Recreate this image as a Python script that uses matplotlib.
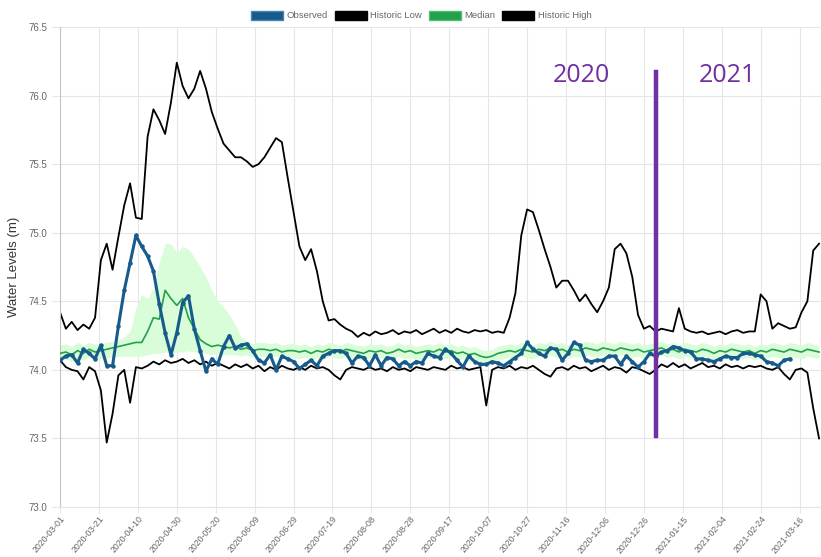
import matplotlib
matplotlib.use('Agg')

import pandas as pd
import matplotlib.pyplot as plt
from matplotlib.patches import Patch


# 3-day samples
hist_dates = pd.date_range("2020-03-01", periods=131, freq="3D")
obs_dates = pd.date_range("2020-03-01", periods=126, freq="3D")

historic_high = [
    74.42, 74.30, 74.35, 74.29, 74.33, 74.30, 74.38, 74.80, 74.92, 74.73,
    74.97, 75.20, 75.36, 75.11, 75.10, 75.70, 75.90, 75.82, 75.72, 75.95,
    76.24, 76.07, 75.98, 76.05, 76.18, 76.05, 75.88, 75.76, 75.65, 75.60,
    75.55, 75.55, 75.52, 75.48, 75.50, 75.55, 75.62, 75.69, 75.66, 75.40,
    75.15, 74.90, 74.80, 74.88, 74.72, 74.50, 74.36, 74.37, 74.33, 74.30,
    74.28, 74.24, 74.27, 74.25, 74.28, 74.26, 74.27, 74.29, 74.26, 74.28,
    74.27, 74.29, 74.26, 74.28, 74.30, 74.27, 74.29, 74.27, 74.30, 74.28,
    74.27, 74.29, 74.28, 74.29, 74.27, 74.28, 74.27, 74.38, 74.56, 74.98,
    75.17, 75.15, 75.02, 74.88, 74.75, 74.60, 74.65, 74.65, 74.58, 74.50,
    74.55, 74.48, 74.42, 74.50, 74.60, 74.88, 74.92, 74.85, 74.68, 74.40,
    74.30, 74.32, 74.28, 74.30, 74.29, 74.28, 74.45, 74.30, 74.28, 74.27,
    74.28, 74.26, 74.27, 74.28, 74.26, 74.28, 74.29, 74.27, 74.28, 74.28,
    74.55, 74.50, 74.30, 74.34, 74.32, 74.30, 74.31, 74.42, 74.50, 74.87,
    74.92,
]

historic_low = [
    74.07, 74.02, 74.00, 73.99, 73.93, 74.02, 73.99, 73.85, 73.47, 73.68,
    73.96, 74.00, 73.76, 74.02, 74.01, 74.03, 74.06, 74.04, 74.07, 74.05,
    74.06, 74.08, 74.05, 74.07, 74.04, 74.06, 74.03, 74.05, 74.03, 74.01,
    74.04, 74.02, 74.04, 74.01, 74.03, 73.99, 74.02, 74.00, 74.03, 74.01,
    74.00, 74.02, 74.00, 74.03, 74.01, 74.02, 74.00, 73.96, 73.93, 74.00,
    74.02, 74.01, 74.00, 74.02, 74.00, 74.01, 73.99, 74.02, 74.00, 74.01,
    73.99, 74.02, 74.01, 74.00, 74.02, 74.01, 74.00, 74.03, 74.01, 74.02,
    74.00, 74.01, 74.02, 73.74, 74.00, 74.02, 74.01, 74.03, 74.00, 74.02,
    74.01, 74.03, 74.00, 73.97, 73.95, 74.01, 74.02, 74.00, 74.03, 74.01,
    74.02, 73.99, 74.01, 74.03, 74.00, 74.02, 74.01, 73.98, 74.02, 74.01,
    73.99, 73.97, 74.00, 74.04, 74.02, 74.05, 74.02, 74.04, 74.01, 74.03,
    74.05, 74.02, 74.03, 74.01, 74.04, 74.02, 74.03, 74.01, 74.03, 74.02,
    74.03, 74.01, 74.00, 74.02, 73.97, 73.93, 74.00, 74.01, 73.98, 73.72,
    73.50,
]

median = [
    74.12, 74.13, 74.11, 74.14, 74.12, 74.15, 74.13, 74.14, 74.15, 74.16,
    74.17, 74.18, 74.19, 74.20, 74.20, 74.28, 74.38, 74.37, 74.58, 74.52,
    74.47, 74.52, 74.38, 74.30, 74.22, 74.19, 74.17, 74.18, 74.17, 74.16,
    74.17, 74.15, 74.16, 74.14, 74.15, 74.15, 74.14, 74.15, 74.13, 74.14,
    74.14, 74.13, 74.14, 74.12, 74.14, 74.13, 74.15, 74.14, 74.13, 74.15,
    74.14, 74.13, 74.12, 74.14, 74.13, 74.14, 74.12, 74.13, 74.15, 74.13,
    74.14, 74.12, 74.13, 74.14, 74.13, 74.15, 74.13, 74.14, 74.12, 74.13,
    74.11, 74.12, 74.10, 74.09, 74.10, 74.12, 74.13, 74.14, 74.13, 74.15,
    74.14, 74.13, 74.15, 74.14, 74.16, 74.14, 74.15, 74.13, 74.15, 74.14,
    74.16, 74.15, 74.14, 74.16, 74.15, 74.14, 74.16, 74.15, 74.14, 74.15,
    74.13, 74.14, 74.15, 74.16, 74.14, 74.15, 74.13, 74.15, 74.14, 74.13,
    74.15, 74.14, 74.12, 74.14, 74.13, 74.15, 74.14, 74.13, 74.14, 74.12,
    74.14, 74.13, 74.15, 74.14, 74.13, 74.15, 74.14, 74.13, 74.15, 74.14,
    74.13,
]

band_high = [
    74.18, 74.19, 74.17, 74.20, 74.18, 74.20, 74.19, 74.19, 74.20, 74.21,
    74.22, 74.24, 74.28, 74.45, 74.55, 74.52, 74.60, 74.78, 74.92, 74.92,
    74.86, 74.90, 74.88, 74.82, 74.75, 74.68, 74.58, 74.50, 74.46, 74.40,
    74.33, 74.24, 74.21, 74.19, 74.20, 74.20, 74.19, 74.20, 74.18, 74.19,
    74.19, 74.18, 74.19, 74.17, 74.19, 74.18, 74.20, 74.19, 74.18, 74.20,
    74.19, 74.18, 74.17, 74.19, 74.18, 74.19, 74.17, 74.18, 74.20, 74.18,
    74.19, 74.17, 74.18, 74.19, 74.18, 74.20, 74.18, 74.19, 74.17, 74.18,
    74.16, 74.17, 74.15, 74.14, 74.15, 74.17, 74.18, 74.19, 74.18, 74.20,
    74.19, 74.18, 74.20, 74.19, 74.21, 74.19, 74.20, 74.18, 74.20, 74.19,
    74.21, 74.20, 74.19, 74.21, 74.20, 74.19, 74.21, 74.20, 74.19, 74.20,
    74.18, 74.19, 74.20, 74.21, 74.19, 74.20, 74.18, 74.20, 74.19, 74.18,
    74.20, 74.19, 74.17, 74.19, 74.18, 74.20, 74.19, 74.18, 74.19, 74.17,
    74.19, 74.18, 74.20, 74.19, 74.18, 74.20, 74.19, 74.18, 74.20, 74.19,
    74.18,
]

band_low = [
    74.07, 74.08, 74.06, 74.09, 74.07, 74.10, 74.08, 74.08, 74.09, 74.09,
    74.10, 74.10, 74.10, 74.10, 74.10, 74.11, 74.12, 74.12, 74.13, 74.12,
    74.13, 74.13, 74.14, 74.13, 74.13, 74.12, 74.11, 74.12, 74.11, 74.11,
    74.11, 74.10, 74.11, 74.09, 74.10, 74.10, 74.09, 74.10, 74.08, 74.09,
    74.09, 74.08, 74.09, 74.07, 74.09, 74.08, 74.10, 74.09, 74.08, 74.10,
    74.09, 74.08, 74.07, 74.09, 74.08, 74.09, 74.07, 74.08, 74.10, 74.08,
    74.09, 74.07, 74.08, 74.09, 74.08, 74.10, 74.08, 74.09, 74.07, 74.08,
    74.06, 74.07, 74.05, 74.04, 74.05, 74.07, 74.08, 74.09, 74.08, 74.10,
    74.09, 74.08, 74.10, 74.09, 74.11, 74.09, 74.10, 74.08, 74.10, 74.09,
    74.11, 74.10, 74.09, 74.11, 74.10, 74.09, 74.11, 74.10, 74.09, 74.10,
    74.08, 74.09, 74.10, 74.11, 74.09, 74.10, 74.08, 74.10, 74.09, 74.08,
    74.10, 74.09, 74.07, 74.09, 74.08, 74.10, 74.09, 74.08, 74.09, 74.07,
    74.09, 74.08, 74.10, 74.09, 74.08, 74.10, 74.09, 74.08, 74.10, 74.09,
    74.08,
]

observed = [
    74.07, 74.10, 74.11, 74.05, 74.15, 74.12, 74.08, 74.18, 74.03, 74.03,
    74.32, 74.58, 74.78, 74.98, 74.90, 74.83, 74.72, 74.48, 74.27, 74.11,
    74.27, 74.49, 74.54, 74.30, 74.14, 73.99, 74.08, 74.04, 74.17, 74.25,
    74.16, 74.18, 74.19, 74.14, 74.07, 74.05, 74.11, 74.00, 74.10, 74.08,
    74.06, 74.01, 74.04, 74.07, 74.03, 74.10, 74.12, 74.14, 74.14, 74.12,
    74.05, 74.10, 74.09, 74.03, 74.11, 74.03, 74.09, 74.08, 74.03, 74.06,
    74.03, 74.06, 74.05, 74.12, 74.10, 74.09, 74.15, 74.12, 74.07, 74.02,
    74.10, 74.06, 74.04, 74.04, 74.06, 74.05, 74.03, 74.06, 74.09, 74.12,
    74.20, 74.15, 74.12, 74.10, 74.16, 74.15, 74.07, 74.12, 74.20, 74.18,
    74.07, 74.06, 74.07, 74.07, 74.10, 74.10, 74.04, 74.10, 74.06, 74.02,
    74.06, 74.12, 74.10, 74.13, 74.14, 74.17, 74.16, 74.14, 74.13, 74.08,
    74.08, 74.07, 74.06, 74.08, 74.10, 74.09, 74.09, 74.12, 74.12, 74.11,
    74.10, 74.06, 74.05, 74.03, 74.07, 74.08,
]

year_split = pd.Timestamp("2021-01-01")
split_range = [73.52, 76.17]
year_labels = ["2020", "2021"]
year_label_dates = [pd.Timestamp("2020-11-24"), pd.Timestamp("2021-02-07")]
year_label_y = 76.15

tick_dates = pd.date_range("2020-03-01", "2021-03-27", freq="20D")

obs_color = "#175a8c"
median_color = "#22a04b"
purple = "#7030a0"
grid_color = "#e6e6e6"
text_color = "#666666"

fig = plt.figure(figsize=(8.21, 5.57), dpi=100)
ax = fig.add_axes([0.0731, 0.0898, 0.9269, 0.8617])

ax.fill_between(hist_dates, band_low, band_high, color="#d9fcd9", lw=0, zorder=1)
ax.plot(hist_dates, historic_high, color="black", lw=1.3, zorder=2)
ax.plot(hist_dates, historic_low, color="black", lw=1.3, zorder=2)
ax.plot(hist_dates, median, color=median_color, lw=1.2, zorder=3)
ax.plot(obs_dates, observed, color=obs_color, lw=2.2, marker="o", ms=2.2,
        zorder=4)

ax.plot([year_split, year_split], split_range, color=purple, lw=3.2, zorder=5)
for lab, d in zip(year_labels, year_label_dates):
    ax.text(d, year_label_y, lab, color=purple, fontsize=18,
            family="Open Sans", ha="center", va="center", zorder=6)

ax.set_xlim(pd.Timestamp("2020-03-01"), pd.Timestamp("2021-03-27"))
ax.set_ylim(73.0, 76.5)
ax.set_xticks(tick_dates)
ax.set_xticklabels([d.strftime("%Y-%m-%d") for d in tick_dates],
                   rotation=50, ha="right", rotation_mode="anchor")
ax.set_yticks([73.0, 73.5, 74.0, 74.5, 75.0, 75.5, 76.0, 76.5])
ax.set_yticklabels(["73.0", "73.5", "74.0", "74.5", "75.0", "75.5", "76.0", "76.5"])

ax.grid(True, color=grid_color, lw=0.8)
ax.set_axisbelow(True)
for side in ["top", "right"]:
    ax.spines[side].set_visible(False)
ax.spines["left"].set_color("#c4c4c4")
ax.spines["bottom"].set_color(grid_color)
ax.tick_params(axis="both", colors=grid_color, labelcolor=text_color,
               labelsize=7, width=0.8)
ax.tick_params(axis="y", length=6, pad=3)
ax.tick_params(axis="x", length=4, pad=1.5, labelsize=6.3)
for lab in ax.get_xticklabels() + ax.get_yticklabels():
    lab.set_family("Liberation Sans")

ax.set_ylabel("Water Levels (m)", fontsize=9.5, color="#333333",
              family="Liberation Sans", labelpad=6)

handles = [
    Patch(facecolor=obs_color, edgecolor="#4a84b5", label="Observed"),
    Patch(facecolor="black", edgecolor="black", label="Historic Low"),
    Patch(facecolor=median_color, edgecolor="#4fc070", label="Median"),
    Patch(facecolor="black", edgecolor="black", label="Historic High"),
]
leg = fig.legend(handles=handles, loc="center", ncol=4,
                 bbox_to_anchor=(0.513, 1 - 15.5 / 557), frameon=False,
                 prop={"family": "Liberation Sans", "size": 6.8},
                 handlelength=3.4, handleheight=1.15, handletextpad=0.35,
                 columnspacing=0.75)
for t in leg.get_texts():
    t.set_color(text_color)

fig.savefig("out.png", dpi=100)
